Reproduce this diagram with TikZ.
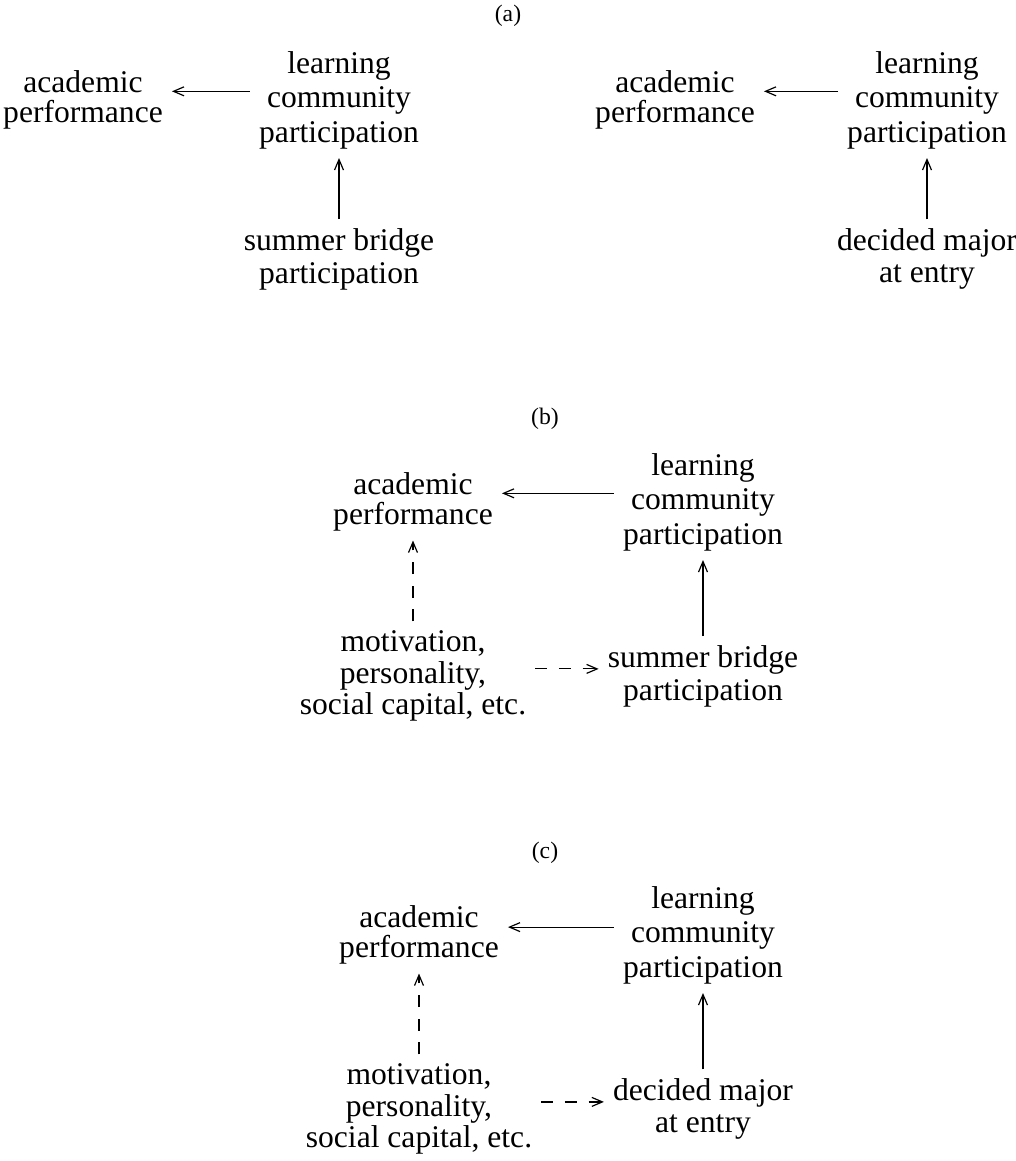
\documentclass[tikz,border=0pt]{standalone}
\usepackage{fontspec}
\setmainfont{Liberation Serif}
\usetikzlibrary{arrows.meta}
\begin{document}
\begin{tikzpicture}[x=0.38pt,y=-0.38pt,
  txt/.style={align=center,inner sep=3.3pt},
  bs/.style={font=\fontsize{12}{#1}\selectfont},
  lbl/.style={inner sep=0pt,font=\fontsize{9}{9}\selectfont},
  arr/.style={line width=0.45pt,-{Straight Barb[length=4pt,width=3.4pt]}},
  darr/.style={arr,dash pattern=on 4.6pt off 4.4pt}]
\useasboundingbox (0,0) rectangle (1016,1161);

% (a)
\node[lbl] (la) at (508,16) {(a)};
\node[txt,bs=11.4pt] (ap1) at (83,100) {academic\\performance};
\node[txt,bs=13.1pt] (lc1) at (339,100) {learning\\community\\participation};
\node[txt,bs=12.5pt] (sb1) at (339,259) {summer bridge\\participation};
\node[txt,bs=11.4pt] (ap2) at (675,100) {academic\\performance};
\node[txt,bs=13.1pt] (lc2) at (927,100) {learning\\community\\participation};
\node[txt,bs=12.2pt] (dm2) at (927,259) {decided major\\at entry};
\coordinate (h1) at ([yshift=3.3pt]lc1.west);
\draw[arr] (h1) -- (ap1.east |- h1);
\draw[arr] (sb1.north) -- (lc1.south);
\coordinate (h2) at ([yshift=3.3pt]lc2.west);
\draw[arr] (h2) -- (ap2.east |- h2);
\draw[arr] (dm2.north) -- (lc2.south);

% (b)
\node[lbl] (lb) at (545,419) {(b)};
\node[txt,bs=11.4pt] (ap3) at (413,502) {academic\\performance};
\node[txt,bs=13.1pt] (lc3) at (703,502) {learning\\community\\participation};
\node[txt,bs=12pt] (mo3) at (413,676) {motivation,\\personality,\\social capital, etc.};
\node[txt,bs=12.5pt] (sb3) at (703,676) {summer bridge\\participation};
\coordinate (h3) at ([yshift=3.3pt]lc3.west);
\draw[arr] (h3) -- (ap3.east |- h3);
\draw[arr] (sb3.north) -- (lc3.south);
\draw[darr] (mo3.north) -- (ap3.south);
\coordinate (d3) at ([yshift=2.7pt]mo3.east);
\draw[darr] (d3) -- (sb3.west |- d3);

% (c)
\node[lbl] (lc) at (545,853) {(c)};
\node[txt,bs=11.4pt] (ap4) at (419,935) {academic\\performance};
\node[txt,bs=13.1pt] (lc4) at (703,935) {learning\\community\\participation};
\node[txt,bs=12pt] (mo4) at (419,1109) {motivation,\\personality,\\social capital, etc.};
\node[txt,bs=12.2pt] (dm4) at (703,1109) {decided major\\at entry};
\coordinate (h4) at ([yshift=3.0pt]lc4.west);
\draw[arr] (h4) -- (ap4.east |- h4);
\draw[arr] (dm4.north) -- (lc4.south);
\draw[darr] (mo4.north) -- (ap4.south);
\coordinate (d4) at ([yshift=2.7pt]mo4.east);
\draw[darr] (d4) -- (dm4.west |- d4);
\end{tikzpicture}
\end{document}
